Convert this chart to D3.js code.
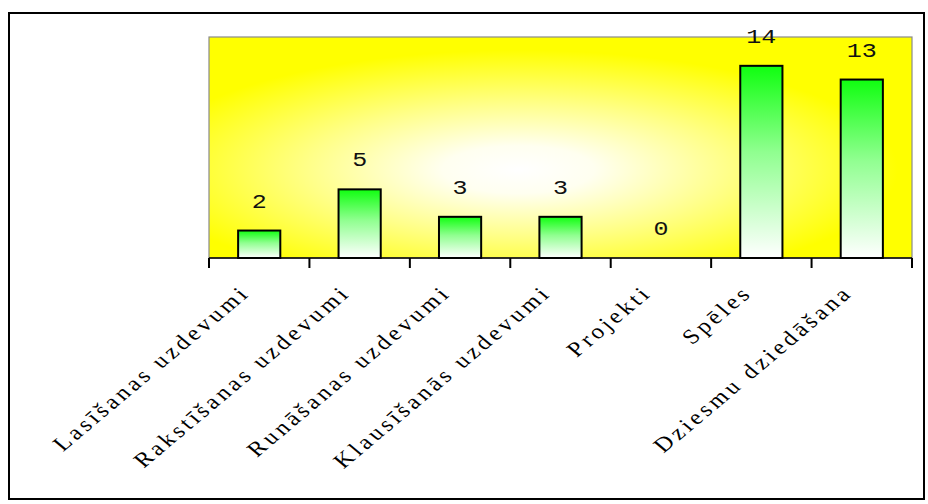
<!DOCTYPE html>
<html>
<head>
<meta charset="utf-8">
<script src="https://cdn.jsdelivr.net/npm/d3@7"></script>
<style>
  html, body { margin: 0; padding: 0; background: #fff; }
  svg { display: block; }
</style>
</head>
<body>
<svg id="chart" width="928" height="504"></svg>
<script>
// Activity categories and how many times each was chosen
const categories = [
  "Lasīšanas uzdevumi",
  "Rakstīšanas uzdevumi",
  "Runāšanas uzdevumi",
  "Klausīšanās uzdevumi",
  "Projekti",
  "Spēles",
  "Dziesmu dziedāšana"
];
const counts = [2, 5, 3, 3, 0, 14, 13];
const yDomainMax = 16.1;

const svg = d3.select("#chart");
const plot = { left: 209, right: 912, top: 37, bottom: 258 };
const stretch = 1.19; // horizontal stretch applied to all text

const defs = svg.append("defs");

// Yellow background fading to white towards the middle
const bg = defs.append("radialGradient")
  .attr("id", "bgGrad")
  .attr("cx", 0.44).attr("cy", 0.6).attr("r", 0.6)
  .attr("fx", 0.44).attr("fy", 0.6);
bg.append("stop").attr("offset", "0%").attr("stop-color", "#ffffff");
bg.append("stop").attr("offset", "18%").attr("stop-color", "#fffff0");
bg.append("stop").attr("offset", "50%").attr("stop-color", "#ffff88");
bg.append("stop").attr("offset", "90%").attr("stop-color", "#ffff00");

// Green-to-white bar fill
const barGrad = defs.append("linearGradient")
  .attr("id", "barGrad")
  .attr("x1", 0).attr("y1", 0).attr("x2", 0).attr("y2", 1);
barGrad.append("stop").attr("offset", "0%").attr("stop-color", "#10ff10");
barGrad.append("stop").attr("offset", "45%").attr("stop-color", "#90ff90");
barGrad.append("stop").attr("offset", "100%").attr("stop-color", "#ffffff");

// Outer frame
svg.append("rect")
  .attr("x", 9).attr("y", 13).attr("width", 915).attr("height", 486)
  .attr("fill", "#fff").attr("stroke", "#000").attr("stroke-width", 2);

const x = d3.scaleBand()
  .domain(categories)
  .range([plot.left, plot.right])
  .paddingInner(0.58)
  .paddingOuter(0.29);

const y = d3.scaleLinear()
  .domain([0, yDomainMax])
  .range([plot.bottom, plot.top]);

// Plot area
svg.append("rect")
  .attr("x", plot.left).attr("y", plot.top)
  .attr("width", plot.right - plot.left).attr("height", plot.bottom - plot.top)
  .attr("fill", "url(#bgGrad)")
  .attr("stroke", "#8a8a8a").attr("stroke-width", 1.2);

// Bars
svg.append("g").selectAll("rect")
  .data(categories)
  .join("rect")
  .attr("x", d => x(d))
  .attr("y", (d, i) => y(counts[i]))
  .attr("width", x.bandwidth())
  .attr("height", (d, i) => y(0) - y(counts[i]))
  .attr("fill", "url(#barGrad)")
  .attr("stroke", "#000")
  .attr("stroke-width", 2)
  .style("display", (d, i) => counts[i] > 0 ? null : "none");

// Value labels
svg.append("g").selectAll("text")
  .data(categories)
  .join("text")
  .attr("transform", (d, i) =>
    `translate(${x(d) + x.bandwidth() / 2},${y(counts[i]) - 23}) scale(${stretch},1)`)
  .attr("text-anchor", "middle")
  .attr("font-family", "'Liberation Mono', 'DejaVu Sans Mono', monospace")
  .attr("font-size", 21)
  .attr("fill", "#111")
  .text((d, i) => counts[i]);

// Category axis with ticks between bands
const axisStep = x.step();
const boundaries = d3.range(categories.length + 1).map(i => plot.left + i * axisStep);
const axis = svg.append("g");
axis.append("line")
  .attr("x1", plot.left).attr("x2", plot.right)
  .attr("y1", plot.bottom).attr("y2", plot.bottom)
  .attr("stroke", "#000").attr("stroke-width", 1.5);
axis.selectAll("line.tick")
  .data(boundaries)
  .join("line")
  .attr("class", "tick")
  .attr("x1", d => d).attr("x2", d => d)
  .attr("y1", plot.bottom).attr("y2", plot.bottom + 10)
  .attr("stroke", "#000").attr("stroke-width", 2);

// Rotated category labels
axis.selectAll("text")
  .data(categories)
  .join("text")
  .attr("transform", d =>
    `translate(${x(d) + x.bandwidth() / 2 - 8},${plot.bottom + 36}) scale(${stretch},1) rotate(-45)`)
  .attr("text-anchor", "end")
  .attr("font-family", "'Liberation Serif', 'Times New Roman', serif")
  .attr("font-size", 21)
  .attr("letter-spacing", 3)
  .attr("fill", "#000")
  .text(d => d);
</script>
</body>
</html>
